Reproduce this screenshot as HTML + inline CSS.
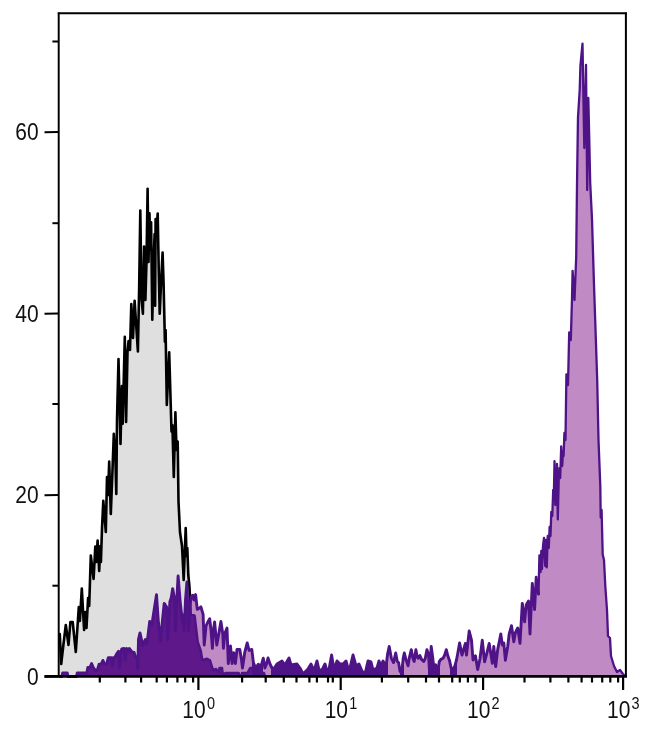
<!DOCTYPE html>
<html><head><meta charset="utf-8"><title>Histogram</title>
<style>
html,body{margin:0;padding:0;background:#fff}
svg{display:block}
.t{font-family:"Liberation Sans",sans-serif;font-size:21px;fill:#111}
.s{font-family:"Liberation Sans",sans-serif;font-size:14.5px;fill:#111}
</style></head><body>
<svg width="650" height="732" viewBox="0 0 650 732">
<rect width="650" height="732" fill="#fff"/>
<polygon points="59.3,676.5 59.3,640.0 59.8,634.0 61.2,664.0 63.5,644.0 65.8,625.0 68.5,645.0 70.4,622.0 72.7,622.0 75.8,652.0 78.8,607.0 79.9,621.0 81.8,588.5 84.1,630.0 85.3,612.0 86.5,628.0 88.1,598.0 89.2,606.0 90.8,555.5 93.6,579.0 95.3,546.5 96.3,562.0 97.6,540.5 99.2,571.0 100.3,546.0 100.9,562.0 102.0,528.6 103.3,500.8 105.8,532.0 107.0,477.0 108.0,495.0 109.2,461.5 110.8,514.0 112.5,470.0 113.8,433.8 115.4,457.7 116.3,494.0 117.0,420.0 118.5,359.0 120.5,444.0 121.9,386.0 122.7,423.6 124.8,336.7 126.1,422.0 127.5,352.0 128.6,341.0 130.0,350.0 131.3,304.0 133.0,338.0 134.6,300.7 137.9,351.5 139.2,285.0 140.3,210.5 141.6,300.0 142.9,313.7 144.1,246.5 145.4,300.0 146.5,262.0 147.6,188.8 148.5,262.0 149.5,213.4 150.2,250.0 151.1,222.3 152.3,319.7 153.6,262.0 154.6,234.0 155.1,305.8 155.6,219.0 156.6,228.0 157.7,213.5 158.7,268.0 159.7,313.7 161.2,280.0 162.6,252.6 163.6,284.0 164.9,341.6 165.6,330.0 166.8,405.0 169.2,352.3 171.5,431.5 172.4,425.0 173.8,477.0 175.4,412.3 176.5,450.0 177.7,441.5 178.5,501.5 180.0,532.3 182.0,546.0 183.7,580.0 185.7,528.0 186.6,556.0 187.3,548.0 188.3,575.0 189.4,586.0 190.8,614.0 194.6,615.7 197.7,641.8 200.8,651.0 202.3,660.3 207.0,658.8 210.0,660.3 213.0,670.3 216.0,669.0 219.0,672.6 219.5,668.0 222.0,668.0 222.8,674.6 225.5,673.0 231.0,673.0 238.7,673.0 239.5,676.0 241.5,676.0 242.0,673.0 247.4,673.0 250.2,668.0 253.0,668.0 254.0,671.5 257.5,671.5 258.4,668.0 260.3,668.0 261.5,673.0 264.0,673.0 265.0,676.5 265.0,676.5" fill="#dfdfdf"/>
<polyline points="59.3,640.0 59.8,634.0 61.2,664.0 63.5,644.0 65.8,625.0 68.5,645.0 70.4,622.0 72.7,622.0 75.8,652.0 78.8,607.0 79.9,621.0 81.8,588.5 84.1,630.0 85.3,612.0 86.5,628.0 88.1,598.0 89.2,606.0 90.8,555.5 93.6,579.0 95.3,546.5 96.3,562.0 97.6,540.5 99.2,571.0 100.3,546.0 100.9,562.0 102.0,528.6 103.3,500.8 105.8,532.0 107.0,477.0 108.0,495.0 109.2,461.5 110.8,514.0 112.5,470.0 113.8,433.8 115.4,457.7 116.3,494.0 117.0,420.0 118.5,359.0 120.5,444.0 121.9,386.0 122.7,423.6 124.8,336.7 126.1,422.0 127.5,352.0 128.6,341.0 130.0,350.0 131.3,304.0 133.0,338.0 134.6,300.7 137.9,351.5 139.2,285.0 140.3,210.5 141.6,300.0 142.9,313.7 144.1,246.5 145.4,300.0 146.5,262.0 147.6,188.8 148.5,262.0 149.5,213.4 150.2,250.0 151.1,222.3 152.3,319.7 153.6,262.0 154.6,234.0 155.1,305.8 155.6,219.0 156.6,228.0 157.7,213.5 158.7,268.0 159.7,313.7 161.2,280.0 162.6,252.6 163.6,284.0 164.9,341.6 165.6,330.0 166.8,405.0 169.2,352.3 171.5,431.5 172.4,425.0 173.8,477.0 175.4,412.3 176.5,450.0 177.7,441.5 178.5,501.5 180.0,532.3 182.0,546.0 183.7,580.0 185.7,528.0 186.6,556.0 187.3,548.0 188.3,575.0 189.4,586.0 190.8,614.0 194.6,615.7 197.7,641.8 200.8,651.0 202.3,660.3 207.0,658.8 210.0,660.3 213.0,670.3 216.0,669.0 219.0,672.6 219.5,668.0 222.0,668.0 222.8,674.6 225.5,673.0 231.0,673.0 238.7,673.0 239.5,676.0 241.5,676.0 242.0,673.0 247.4,673.0 250.2,668.0 253.0,668.0 254.0,671.5 257.5,671.5 258.4,668.0 260.3,668.0 261.5,673.0 264.0,673.0 265.0,676.5" fill="none" stroke="#000" stroke-width="2.6" stroke-linejoin="round" stroke-linecap="round"/>
<polygon points="59.5,676.5 59.5,676.5 62.0,676.5 62.6,673.0 67.3,673.0 67.9,676.5 76.5,676.5 77.2,673.0 86.8,673.0 87.8,667.4 90.0,667.4 91.6,663.6 93.2,667.4 95.4,670.6 97.5,669.5 99.1,664.1 101.3,664.1 102.9,660.4 104.5,664.1 106.6,664.1 108.3,657.7 111.5,657.7 112.4,666.0 113.3,657.7 114.8,657.7 116.4,654.4 118.5,651.2 119.6,668.0 120.3,655.5 121.7,649.0 124.0,648.5 125.2,660.0 126.6,648.5 127.8,651.5 129.3,648.5 132.0,651.8 134.1,652.3 135.7,657.7 137.2,656.6 137.8,669.0 138.5,639.4 140.0,632.9 141.7,640.5 142.6,645.5 145.3,639.5 146.9,644.4 149.7,621.4 151.9,624.7 153.5,614.0 156.5,594.6 158.4,622.5 160.6,641.0 162.5,620.0 164.2,603.4 166.6,607.0 167.7,640.0 169.9,601.7 171.2,598.0 172.7,588.6 174.8,600.6 175.4,631.0 176.8,600.0 178.1,576.0 180.3,602.8 182.5,622.5 183.3,615.0 184.1,631.0 185.5,600.0 186.9,582.0 188.5,631.0 190.0,605.0 191.5,596.0 192.9,595.2 194.2,600.0 195.6,594.6 197.3,609.4 198.2,609.0 200.9,606.8 203.1,614.4 204.2,645.0 206.0,626.0 207.8,622.0 209.7,618.8 211.0,630.0 212.4,648.3 213.5,630.0 214.6,622.0 216.8,645.0 218.4,636.0 220.9,621.5 222.8,634.0 223.4,648.3 225.0,633.0 227.0,628.0 228.3,663.6 230.5,646.0 232.1,663.6 233.7,652.7 235.4,663.6 237.0,649.4 239.8,649.4 241.4,659.3 242.5,668.0 244.7,652.7 247.2,642.9 249.1,650.5 251.8,649.4 253.4,662.6 255.6,668.0 258.4,664.2 260.5,668.0 263.3,658.2 264.9,668.0 266.5,664.0 268.0,658.0 270.0,664.0 273.0,670.0 277.0,664.0 282.0,661.0 285.0,665.0 289.0,658.0 291.0,665.0 297.0,664.0 300.0,668.0 303.0,674.0 308.0,669.0 311.0,664.0 314.0,671.0 317.0,661.0 319.0,670.0 322.0,670.0 325.0,664.0 328.0,675.0 331.6,655.0 334.0,670.0 337.0,661.0 340.0,664.0 343.0,664.0 346.0,661.0 349.0,672.0 353.0,655.0 356.0,666.0 359.0,664.0 362.0,671.0 365.0,674.0 368.0,661.0 371.0,662.0 373.0,670.0 377.0,668.0 379.0,661.0 381.0,666.0 383.0,661.0 386.0,667.0 387.6,654.0 389.2,646.5 391.4,658.3 393.5,662.6 395.7,653.0 397.3,661.5 398.6,662.6 400.0,671.2 401.6,673.4 403.2,658.3 404.3,653.0 405.9,659.4 408.1,665.8 409.2,658.3 411.3,649.7 412.9,658.3 414.2,661.5 415.9,649.7 417.2,657.2 418.3,658.3 419.9,655.6 421.5,659.4 423.7,661.5 425.3,658.3 426.9,649.7 428.5,654.0 429.6,673.4 431.2,646.5 432.8,658.3 433.9,669.0 435.7,664.8 436.6,672.3 438.2,669.0 439.3,661.5 440.9,659.4 443.0,658.3 444.7,655.0 446.3,649.7 447.9,656.0 449.5,660.4 451.1,668.0 453.3,669.0 454.9,665.8 456.5,660.0 458.0,652.0 459.6,643.0 462.0,655.0 465.4,643.4 466.5,655.0 469.2,631.0 471.5,640.0 473.0,660.0 475.4,655.7 477.7,669.5 480.0,658.8 482.3,640.3 484.6,661.8 487.0,652.6 489.2,643.4 492.3,663.4 493.8,646.5 495.7,666.5 497.7,649.5 500.8,634.0 502.3,645.0 503.8,643.0 505.4,660.3 507.7,646.5 509.2,634.0 511.5,625.7 513.8,641.8 515.4,632.6 517.7,628.0 520.0,643.4 522.3,603.4 524.6,621.8 526.2,605.0 528.5,601.0 530.0,634.0 532.3,583.4 534.6,609.5 536.2,577.2 538.5,594.0 539.4,555.4 540.6,572.0 541.3,551.0 542.0,569.0 543.0,546.0 544.0,537.8 545.2,566.0 546.0,540.0 546.8,567.4 547.7,536.0 548.8,548.0 549.6,527.0 550.5,536.0 551.3,512.0 552.3,516.0 553.2,490.0 553.8,500.0 554.5,461.2 555.3,505.0 556.0,470.0 556.5,500.0 557.0,464.0 557.8,519.4 558.7,480.0 559.5,468.0 560.2,478.0 561.2,446.5 562.2,466.0 563.0,452.0 563.6,456.0 564.4,433.0 565.5,440.0 566.4,374.5 568.0,385.0 569.2,332.4 570.8,340.0 572.0,298.8 572.6,270.8 574.5,300.0 576.2,256.8 577.0,186.0 577.8,130.0 578.0,117.0 579.7,90.0 580.4,66.0 582.5,43.6 584.3,148.0 586.0,64.9 587.2,190.0 588.3,98.0 589.3,141.0 590.2,183.0 592.0,219.0 593.9,282.0 595.8,338.0 597.2,380.0 598.5,440.0 600.3,486.0 600.7,517.5 601.6,510.0 602.7,554.5 604.0,560.0 605.3,586.0 607.0,610.0 608.0,636.0 610.0,638.0 611.0,656.0 614.0,666.0 617.0,672.0 620.0,670.0 623.0,674.0 625.0,676.0 625.0,676.5" fill="#c08bc5"/>
<polygon points="59.5,676.5 59.5,676.5 59.5,676.5 59.8,676.5 60.0,676.5 60.3,676.5 60.5,676.5 60.8,676.5 61.0,676.5 61.2,676.5 61.3,676.5 61.5,676.5 61.8,676.5 62.0,676.5 62.0,676.2 62.3,674.8 62.5,673.3 62.6,673.0 62.8,673.0 63.0,673.0 63.3,673.0 63.5,673.0 63.5,673.0 63.8,673.0 64.0,673.0 64.3,673.0 64.5,673.0 64.8,673.0 65.0,673.0 65.3,673.0 65.5,673.0 65.8,673.0 66.0,673.0 66.3,673.0 66.5,673.0 66.8,673.0 67.0,673.0 67.3,673.0 67.5,674.5 67.8,675.9 67.9,676.5 68.0,676.5 68.3,676.5 68.5,676.5 68.5,676.5 68.8,676.5 69.0,676.5 69.3,676.5 69.5,676.5 69.8,676.5 70.0,676.5 70.3,676.5 70.4,676.5 70.5,676.5 70.8,676.5 71.0,676.5 71.3,676.5 71.5,676.5 71.8,676.5 72.0,676.5 72.3,676.5 72.5,676.5 72.7,676.5 72.8,676.5 73.0,676.5 73.3,676.5 73.5,676.5 73.8,676.5 74.0,676.5 74.3,676.5 74.5,676.5 74.8,676.5 75.0,676.5 75.3,676.5 75.5,676.5 75.8,676.5 76.0,676.5 76.3,676.5 76.5,676.5 76.5,676.2 76.8,675.0 77.0,673.8 77.2,673.0 77.3,673.0 77.5,673.0 77.8,673.0 78.0,673.0 78.3,673.0 78.5,673.0 78.8,673.0 79.0,673.0 79.3,673.0 79.5,673.0 79.8,673.0 79.9,673.0 80.0,673.0 80.3,673.0 80.5,673.0 80.8,673.0 81.0,673.0 81.3,673.0 81.5,673.0 81.8,673.0 82.0,673.0 82.3,673.0 82.5,673.0 82.8,673.0 83.0,673.0 83.3,673.0 83.5,673.0 83.8,673.0 84.0,673.0 84.1,673.0 84.3,673.0 84.5,673.0 84.8,673.0 85.0,673.0 85.3,673.0 85.5,673.0 85.8,673.0 86.0,673.0 86.3,673.0 86.5,673.0 86.5,673.0 86.8,673.0 87.0,671.6 87.3,670.2 87.5,668.8 87.8,667.4 88.0,667.4 88.1,667.4 88.3,667.4 88.5,667.4 88.8,667.4 89.0,667.4 89.2,667.4 89.3,667.4 89.5,667.4 89.8,667.4 90.0,667.4 90.0,667.3 90.3,666.7 90.5,666.1 90.8,665.5 91.0,664.9 91.3,664.3 91.5,663.7 91.6,663.6 91.8,664.1 92.0,664.7 92.3,665.3 92.5,665.9 92.8,666.4 93.0,667.0 93.2,667.4 93.3,667.5 93.5,667.9 93.6,668.0 93.8,668.3 94.0,668.6 94.3,669.0 94.5,669.4 94.8,669.7 95.0,670.1 95.3,670.5 95.4,670.6 95.5,670.5 95.8,670.4 96.0,670.3 96.3,670.1 96.5,670.0 96.8,669.9 97.0,669.7 97.3,669.6 97.5,669.5 97.5,669.3 97.6,669.2 97.8,668.5 98.0,667.6 98.3,666.8 98.5,666.0 98.8,665.1 99.0,664.3 99.1,664.1 99.2,664.1 99.3,664.1 99.5,664.1 99.8,664.1 100.0,664.1 100.3,664.1 100.5,664.1 100.8,664.1 100.9,664.1 101.0,664.1 101.3,664.1 101.5,663.5 101.8,662.9 102.0,662.5 102.0,662.4 102.3,661.8 102.5,661.2 102.8,660.6 102.9,660.4 103.0,660.7 103.3,661.3 103.5,661.9 103.8,662.5 104.0,663.1 104.3,663.6 104.5,664.1 104.5,664.1 104.8,664.1 105.0,664.1 105.3,664.1 105.5,664.1 105.8,664.1 106.0,664.1 106.3,664.1 106.5,664.1 106.6,664.1 106.8,663.3 107.0,662.6 107.0,662.4 107.3,661.5 107.5,660.5 107.8,659.6 108.0,658.8 108.0,658.6 108.3,657.7 108.5,657.7 108.8,657.7 109.0,657.7 109.2,657.7 109.3,657.7 109.5,657.7 109.8,657.7 110.0,657.7 110.3,657.7 110.5,657.7 110.8,657.7 111.0,657.7 111.3,657.7 111.5,657.7 111.5,658.2 111.8,660.5 112.0,662.8 112.3,665.1 112.4,666.0 112.5,665.1 112.5,664.6 112.8,662.3 113.0,660.0 113.3,657.7 113.5,657.7 113.8,657.7 114.0,657.7 114.3,657.7 114.5,657.7 114.8,657.7 115.0,657.2 115.3,656.7 115.4,656.5 115.5,656.2 115.8,655.6 116.0,655.1 116.3,654.6 116.4,654.4 116.5,654.2 116.8,653.8 117.0,653.5 117.0,653.4 117.3,653.0 117.5,652.6 117.8,652.3 118.0,651.9 118.3,651.5 118.5,651.2 118.5,652.0 118.8,655.8 119.0,659.6 119.3,663.4 119.5,667.2 119.6,668.0 119.8,664.4 120.0,660.0 120.3,655.5 120.5,654.6 120.5,654.3 120.8,653.2 121.0,652.0 121.3,650.9 121.5,649.7 121.7,649.0 121.8,649.0 121.9,649.0 122.0,648.9 122.3,648.9 122.5,648.8 122.7,648.8 122.8,648.8 123.0,648.7 123.3,648.7 123.5,648.6 123.8,648.5 124.0,648.5 124.0,649.0 124.3,651.4 124.5,653.8 124.8,656.2 125.0,658.6 125.2,660.0 125.3,659.2 125.5,657.1 125.8,655.1 126.0,653.0 126.1,652.6 126.3,651.0 126.5,648.9 126.6,648.5 126.8,649.0 127.0,649.6 127.3,650.2 127.5,650.8 127.5,650.9 127.8,651.5 128.1,651.0 128.3,650.5 128.6,650.0 128.6,649.9 128.8,649.5 129.1,649.0 129.3,648.5 129.6,648.8 129.8,649.1 130.0,649.4 130.1,649.4 130.3,649.7 130.6,650.0 130.8,650.3 131.1,650.6 131.3,650.9 131.6,651.2 131.8,651.6 132.0,651.8 132.1,651.8 132.3,651.9 132.6,651.9 132.8,652.0 133.0,652.0 133.1,652.0 133.3,652.1 133.6,652.2 133.8,652.2 134.1,652.3 134.1,652.3 134.3,653.0 134.6,653.8 134.6,654.0 134.8,654.7 135.1,655.5 135.3,656.4 135.6,657.2 135.7,657.7 135.8,657.6 136.1,657.4 136.3,657.3 136.6,657.1 136.8,656.9 137.1,656.7 137.2,656.6 137.3,658.7 137.6,663.8 137.8,669.0 137.9,664.8 138.1,658.4 138.3,647.9 138.5,639.4 138.6,639.2 138.8,638.1 139.1,637.0 139.2,636.4 139.3,635.9 139.6,634.8 139.8,633.8 140.0,632.9 140.1,633.1 140.3,634.2 140.6,635.4 140.8,636.5 141.1,637.6 141.3,638.7 141.6,639.8 141.6,640.1 141.7,640.5 141.8,641.1 142.1,642.4 142.3,643.8 142.6,645.2 142.6,645.5 142.8,645.1 142.9,644.8 143.1,644.5 143.3,643.9 143.6,643.4 143.8,642.8 144.1,642.3 144.1,642.2 144.3,641.7 144.6,641.2 144.8,640.6 145.1,640.1 145.3,639.5 145.4,639.8 145.6,640.3 145.8,641.0 146.1,641.8 146.3,642.6 146.5,643.2 146.6,643.3 146.8,644.1 146.9,644.4 147.1,643.2 147.3,641.1 147.6,639.1 147.6,638.7 147.8,637.0 148.1,635.0 148.3,632.9 148.5,631.3 148.6,630.8 148.8,628.8 149.1,626.7 149.3,624.7 149.5,623.0 149.6,622.6 149.7,621.4 149.8,621.6 150.1,621.9 150.2,622.1 150.3,622.3 150.6,622.7 150.8,623.1 151.1,623.4 151.1,623.5 151.3,623.8 151.6,624.2 151.8,624.6 151.9,624.7 152.1,623.7 152.3,622.0 152.6,620.4 152.8,618.7 153.1,617.0 153.3,615.3 153.5,614.0 153.6,613.7 153.6,613.4 153.8,612.1 154.1,610.4 154.3,608.8 154.6,607.2 154.6,606.9 154.8,605.6 155.1,604.0 155.1,603.7 155.3,602.4 155.6,600.7 155.6,600.4 155.8,599.1 156.1,597.5 156.3,595.9 156.5,594.6 156.6,595.3 156.6,596.1 156.8,599.0 157.1,602.7 157.3,606.3 157.6,610.0 157.7,612.2 157.8,613.7 158.1,617.4 158.3,621.0 158.4,622.5 158.6,623.8 158.7,625.0 158.8,625.9 159.1,628.0 159.3,630.1 159.6,632.2 159.7,633.4 159.8,634.3 160.1,636.4 160.3,638.5 160.6,640.6 160.6,641.0 160.8,638.8 161.1,636.0 161.2,634.4 161.3,633.3 161.6,630.5 161.8,627.7 162.1,625.0 162.3,622.2 162.5,620.0 162.6,619.5 162.6,619.0 162.8,617.1 163.1,614.6 163.3,612.2 163.6,609.7 163.6,609.3 163.8,607.3 164.1,604.9 164.2,603.4 164.3,603.6 164.6,603.9 164.8,604.3 164.9,604.5 165.1,604.7 165.3,605.1 165.6,605.4 165.6,605.5 165.8,605.8 166.1,606.2 166.3,606.6 166.6,606.9 166.6,607.0 166.8,613.0 167.1,620.5 167.3,628.0 167.6,635.5 167.7,640.0 167.8,638.3 168.1,633.9 168.3,629.6 168.6,625.2 168.8,620.8 169.1,616.5 169.2,613.9 169.3,612.1 169.6,607.8 169.8,603.4 169.9,601.7 170.1,601.3 170.3,600.6 170.6,599.9 170.8,599.1 171.1,598.4 171.2,598.0 171.3,597.4 171.5,596.1 171.6,595.8 171.8,594.2 172.1,592.7 172.3,591.1 172.4,590.5 172.6,589.5 172.7,588.6 172.8,589.2 173.1,590.6 173.3,592.0 173.6,593.5 173.8,594.9 174.1,596.3 174.3,597.7 174.6,599.2 174.8,600.6 175.1,613.3 175.3,625.9 175.4,631.0 175.6,627.7 175.8,622.1 176.1,616.6 176.3,611.1 176.5,606.6 176.6,605.5 176.8,600.0 177.1,595.4 177.3,590.8 177.6,586.2 177.7,583.4 177.8,581.5 178.1,576.9 178.1,576.0 178.3,578.4 178.5,580.9 178.6,581.5 178.8,584.5 179.1,587.6 179.3,590.6 179.6,593.7 179.8,596.7 180.0,599.1 180.1,599.8 180.3,602.8 180.6,605.0 180.8,607.3 181.1,609.5 181.3,611.8 181.6,614.0 181.8,616.2 182.0,618.0 182.1,618.5 182.3,620.7 182.5,622.5 182.6,622.0 182.8,619.7 183.1,617.3 183.3,615.0 183.6,620.0 183.7,623.0 183.8,625.0 184.1,630.0 184.1,631.0 184.3,626.6 184.6,621.0 184.8,615.5 185.1,610.0 185.3,604.4 185.5,600.0 185.6,599.4 185.7,597.4 185.8,596.1 186.1,592.9 186.3,589.7 186.6,586.5 186.6,585.9 186.8,583.3 186.9,582.0 187.1,586.6 187.3,594.3 187.6,601.9 187.8,609.6 188.1,617.2 188.3,624.9 188.5,631.0 188.6,630.1 188.8,625.8 189.1,621.5 189.3,617.1 189.4,615.4 189.6,612.8 189.8,608.5 190.0,605.0 190.1,604.7 190.3,604.0 190.6,609.0 190.8,614.0 191.1,614.1 191.3,614.2 191.5,614.3 191.6,614.3 191.8,614.4 192.1,614.6 192.3,614.7 192.6,614.8 192.8,614.9 192.9,614.9 193.1,615.0 193.3,615.1 193.6,615.2 193.8,615.3 194.1,615.5 194.2,615.5 194.3,615.6 194.6,615.7 194.6,615.7 194.8,617.4 195.1,619.5 195.3,621.6 195.6,623.7 195.6,624.1 195.8,625.8 196.1,627.9 196.3,630.0 196.6,632.1 196.8,634.2 197.1,636.3 197.3,638.4 197.6,640.5 197.7,641.8 197.8,642.1 198.1,642.8 198.2,643.3 198.3,643.6 198.6,644.3 198.8,645.1 199.1,645.8 199.3,646.5 199.6,647.3 199.8,648.0 200.1,648.8 200.3,649.5 200.6,650.3 200.8,651.0 200.9,651.6 201.1,652.5 201.3,654.1 201.6,655.6 201.8,657.2 202.1,658.8 202.3,660.3 202.6,660.2 202.8,660.1 203.1,660.1 203.1,660.0 203.3,660.0 203.6,659.9 203.8,659.8 204.1,659.7 204.2,659.7 204.3,659.7 204.6,659.6 204.8,659.5 205.1,659.4 205.3,659.3 205.6,659.3 205.8,659.2 206.0,659.1 206.1,659.1 206.3,659.0 206.6,658.9 206.8,658.9 207.0,658.8 207.1,658.8 207.3,658.9 207.6,659.1 207.8,659.2 208.1,659.3 208.3,659.4 208.6,659.6 208.8,659.7 209.1,659.8 209.3,659.9 209.6,660.1 209.7,660.1 209.8,660.2 210.0,660.3 210.1,660.5 210.3,661.3 210.6,662.1 210.8,663.0 211.0,663.6 211.1,663.8 211.3,664.6 211.6,665.5 211.8,666.3 212.1,667.1 212.3,668.0 212.4,668.3 212.6,668.8 212.8,669.6 213.0,670.3 213.1,670.3 213.3,670.2 213.5,670.1 213.6,670.1 213.8,670.0 214.1,669.8 214.3,669.7 214.6,669.6 214.6,669.6 214.8,669.5 215.1,669.4 215.3,669.3 215.6,669.2 215.8,669.1 216.0,669.0 216.1,669.1 216.3,669.4 216.6,669.7 216.8,670.0 217.1,670.3 217.3,670.6 217.6,670.9 217.8,671.2 218.1,671.5 218.3,671.8 218.4,671.9 218.6,672.1 218.8,672.4 219.0,672.6 219.1,672.1 219.3,669.8 219.5,668.0 219.6,668.0 219.8,668.0 220.1,668.0 220.3,668.0 220.6,668.0 220.8,668.0 220.9,668.0 221.1,668.0 221.3,668.0 221.6,668.0 221.8,668.0 222.0,668.0 222.1,668.4 222.3,670.5 222.6,672.5 222.8,674.6 223.1,674.5 223.3,674.3 223.4,674.2 223.6,674.2 223.8,674.0 224.1,673.9 224.3,673.7 224.6,673.6 224.8,673.4 225.0,673.3 225.1,673.3 225.3,673.1 225.5,673.0 225.6,673.0 225.8,673.0 226.1,673.0 226.3,673.0 226.6,673.0 226.8,673.0 227.0,673.0 227.1,673.0 227.3,673.0 227.6,673.0 227.8,673.0 228.1,673.0 228.3,673.0 228.6,673.0 228.8,673.0 229.1,673.0 229.3,673.0 229.6,673.0 229.8,673.0 230.1,673.0 230.3,673.0 230.5,673.0 230.6,673.0 230.8,673.0 231.0,673.0 231.1,673.0 231.3,673.0 231.6,673.0 231.8,673.0 232.1,673.0 232.1,673.0 232.3,673.0 232.6,673.0 232.8,673.0 233.1,673.0 233.3,673.0 233.6,673.0 233.7,673.0 233.8,673.0 234.1,673.0 234.3,673.0 234.6,673.0 234.8,673.0 235.1,673.0 235.3,673.0 235.4,673.0 235.6,673.0 235.8,673.0 236.1,673.0 236.3,673.0 236.6,673.0 236.8,673.0 237.0,673.0 237.1,673.0 237.3,673.0 237.6,673.0 237.8,673.0 238.1,673.0 238.3,673.0 238.6,673.0 238.7,673.0 238.8,673.4 239.1,674.3 239.3,675.2 239.5,676.0 239.6,676.0 239.8,676.0 240.1,676.0 240.3,676.0 240.6,676.0 240.8,676.0 241.1,676.0 241.3,676.0 241.4,676.0 241.5,676.0 241.6,675.7 241.8,674.2 242.0,673.0 242.1,673.0 242.3,673.0 242.5,673.0 242.6,673.0 242.8,673.0 243.1,673.0 243.3,673.0 243.6,673.0 243.8,673.0 244.1,673.0 244.3,673.0 244.6,673.0 244.7,673.0 244.8,673.0 245.1,673.0 245.3,673.0 245.6,673.0 245.8,673.0 246.1,673.0 246.3,673.0 246.6,673.0 246.8,673.0 247.1,673.0 247.2,673.0 247.3,673.0 247.4,673.0 247.6,672.7 247.8,672.3 248.1,671.8 248.3,671.4 248.6,670.9 248.8,670.5 249.1,670.1 249.1,670.0 249.3,669.6 249.6,669.2 249.8,668.7 250.1,668.3 250.2,668.0 250.3,668.0 250.6,668.0 250.8,668.0 251.1,668.0 251.3,668.0 251.6,668.0 251.8,668.0 252.1,668.0 252.3,668.0 252.6,668.0 252.8,668.0 253.0,668.0 253.1,668.2 253.3,669.1 253.4,669.4 253.6,669.9 253.8,670.8 254.0,671.5 254.1,671.5 254.3,671.5 254.6,671.5 254.8,671.5 255.1,671.5 255.3,671.5 255.6,671.5 255.6,671.5 255.8,671.5 256.1,671.5 256.3,671.5 256.6,671.5 256.8,671.5 257.1,671.5 257.3,671.5 257.5,671.5 257.6,671.3 257.8,670.3 258.1,669.4 258.3,668.4 258.4,668.0 258.6,668.0 258.8,668.0 259.1,668.0 259.3,668.0 259.6,668.0 259.8,668.0 260.1,668.0 260.3,668.0 260.5,668.8 260.6,669.0 260.8,670.1 261.1,671.1 261.3,672.2 261.5,673.0 261.6,673.0 261.8,673.0 262.1,673.0 262.3,673.0 262.6,673.0 262.8,673.0 263.1,673.0 263.3,673.0 263.6,673.0 263.8,673.0 264.0,673.0 264.1,673.2 264.3,674.1 264.6,674.9 264.8,675.8 264.9,676.1 265.0,676.5 265.0,676.5" fill="#5e1889"/>
<clipPath id="pc"><polygon points="59.5,676.5 59.5,676.5 62.0,676.5 62.6,673.0 67.3,673.0 67.9,676.5 76.5,676.5 77.2,673.0 86.8,673.0 87.8,667.4 90.0,667.4 91.6,663.6 93.2,667.4 95.4,670.6 97.5,669.5 99.1,664.1 101.3,664.1 102.9,660.4 104.5,664.1 106.6,664.1 108.3,657.7 111.5,657.7 112.4,666.0 113.3,657.7 114.8,657.7 116.4,654.4 118.5,651.2 119.6,668.0 120.3,655.5 121.7,649.0 124.0,648.5 125.2,660.0 126.6,648.5 127.8,651.5 129.3,648.5 132.0,651.8 134.1,652.3 135.7,657.7 137.2,656.6 137.8,669.0 138.5,639.4 140.0,632.9 141.7,640.5 142.6,645.5 145.3,639.5 146.9,644.4 149.7,621.4 151.9,624.7 153.5,614.0 156.5,594.6 158.4,622.5 160.6,641.0 162.5,620.0 164.2,603.4 166.6,607.0 167.7,640.0 169.9,601.7 171.2,598.0 172.7,588.6 174.8,600.6 175.4,631.0 176.8,600.0 178.1,576.0 180.3,602.8 182.5,622.5 183.3,615.0 184.1,631.0 185.5,600.0 186.9,582.0 188.5,631.0 190.0,605.0 191.5,596.0 192.9,595.2 194.2,600.0 195.6,594.6 197.3,609.4 198.2,609.0 200.9,606.8 203.1,614.4 204.2,645.0 206.0,626.0 207.8,622.0 209.7,618.8 211.0,630.0 212.4,648.3 213.5,630.0 214.6,622.0 216.8,645.0 218.4,636.0 220.9,621.5 222.8,634.0 223.4,648.3 225.0,633.0 227.0,628.0 228.3,663.6 230.5,646.0 232.1,663.6 233.7,652.7 235.4,663.6 237.0,649.4 239.8,649.4 241.4,659.3 242.5,668.0 244.7,652.7 247.2,642.9 249.1,650.5 251.8,649.4 253.4,662.6 255.6,668.0 258.4,664.2 260.5,668.0 263.3,658.2 264.9,668.0 266.5,664.0 268.0,658.0 270.0,664.0 273.0,670.0 277.0,664.0 282.0,661.0 285.0,665.0 289.0,658.0 291.0,665.0 297.0,664.0 300.0,668.0 303.0,674.0 308.0,669.0 311.0,664.0 314.0,671.0 317.0,661.0 319.0,670.0 322.0,670.0 325.0,664.0 328.0,675.0 331.6,655.0 334.0,670.0 337.0,661.0 340.0,664.0 343.0,664.0 346.0,661.0 349.0,672.0 353.0,655.0 356.0,666.0 359.0,664.0 362.0,671.0 365.0,674.0 368.0,661.0 371.0,662.0 373.0,670.0 377.0,668.0 379.0,661.0 381.0,666.0 383.0,661.0 386.0,667.0 387.6,654.0 389.2,646.5 391.4,658.3 393.5,662.6 395.7,653.0 397.3,661.5 398.6,662.6 400.0,671.2 401.6,673.4 403.2,658.3 404.3,653.0 405.9,659.4 408.1,665.8 409.2,658.3 411.3,649.7 412.9,658.3 414.2,661.5 415.9,649.7 417.2,657.2 418.3,658.3 419.9,655.6 421.5,659.4 423.7,661.5 425.3,658.3 426.9,649.7 428.5,654.0 429.6,673.4 431.2,646.5 432.8,658.3 433.9,669.0 435.7,664.8 436.6,672.3 438.2,669.0 439.3,661.5 440.9,659.4 443.0,658.3 444.7,655.0 446.3,649.7 447.9,656.0 449.5,660.4 451.1,668.0 453.3,669.0 454.9,665.8 456.5,660.0 458.0,652.0 459.6,643.0 462.0,655.0 465.4,643.4 466.5,655.0 469.2,631.0 471.5,640.0 473.0,660.0 475.4,655.7 477.7,669.5 480.0,658.8 482.3,640.3 484.6,661.8 487.0,652.6 489.2,643.4 492.3,663.4 493.8,646.5 495.7,666.5 497.7,649.5 500.8,634.0 502.3,645.0 503.8,643.0 505.4,660.3 507.7,646.5 509.2,634.0 511.5,625.7 513.8,641.8 515.4,632.6 517.7,628.0 520.0,643.4 522.3,603.4 524.6,621.8 526.2,605.0 528.5,601.0 530.0,634.0 532.3,583.4 534.6,609.5 536.2,577.2 538.5,594.0 539.4,555.4 540.6,572.0 541.3,551.0 542.0,569.0 543.0,546.0 544.0,537.8 545.2,566.0 546.0,540.0 546.8,567.4 547.7,536.0 548.8,548.0 549.6,527.0 550.5,536.0 551.3,512.0 552.3,516.0 553.2,490.0 553.8,500.0 554.5,461.2 555.3,505.0 556.0,470.0 556.5,500.0 557.0,464.0 557.8,519.4 558.7,480.0 559.5,468.0 560.2,478.0 561.2,446.5 562.2,466.0 563.0,452.0 563.6,456.0 564.4,433.0 565.5,440.0 566.4,374.5 568.0,385.0 569.2,332.4 570.8,340.0 572.0,298.8 572.6,270.8 574.5,300.0 576.2,256.8 577.0,186.0 577.8,130.0 578.0,117.0 579.7,90.0 580.4,66.0 582.5,43.6 584.3,148.0 586.0,64.9 587.2,190.0 588.3,98.0 589.3,141.0 590.2,183.0 592.0,219.0 593.9,282.0 595.8,338.0 597.2,380.0 598.5,440.0 600.3,486.0 600.7,517.5 601.6,510.0 602.7,554.5 604.0,560.0 605.3,586.0 607.0,610.0 608.0,636.0 610.0,638.0 611.0,656.0 614.0,666.0 617.0,672.0 620.0,670.0 623.0,674.0 625.0,676.0 625.0,676.5"/></clipPath>
<polyline clip-path="url(#pc)" points="59.3,640.0 59.8,634.0 61.2,664.0 63.5,644.0 65.8,625.0 68.5,645.0 70.4,622.0 72.7,622.0 75.8,652.0 78.8,607.0 79.9,621.0 81.8,588.5 84.1,630.0 85.3,612.0 86.5,628.0 88.1,598.0 89.2,606.0 90.8,555.5 93.6,579.0 95.3,546.5 96.3,562.0 97.6,540.5 99.2,571.0 100.3,546.0 100.9,562.0 102.0,528.6 103.3,500.8 105.8,532.0 107.0,477.0 108.0,495.0 109.2,461.5 110.8,514.0 112.5,470.0 113.8,433.8 115.4,457.7 116.3,494.0 117.0,420.0 118.5,359.0 120.5,444.0 121.9,386.0 122.7,423.6 124.8,336.7 126.1,422.0 127.5,352.0 128.6,341.0 130.0,350.0 131.3,304.0 133.0,338.0 134.6,300.7 137.9,351.5 139.2,285.0 140.3,210.5 141.6,300.0 142.9,313.7 144.1,246.5 145.4,300.0 146.5,262.0 147.6,188.8 148.5,262.0 149.5,213.4 150.2,250.0 151.1,222.3 152.3,319.7 153.6,262.0 154.6,234.0 155.1,305.8 155.6,219.0 156.6,228.0 157.7,213.5 158.7,268.0 159.7,313.7 161.2,280.0 162.6,252.6 163.6,284.0 164.9,341.6 165.6,330.0 166.8,405.0 169.2,352.3 171.5,431.5 172.4,425.0 173.8,477.0 175.4,412.3 176.5,450.0 177.7,441.5 178.5,501.5 180.0,532.3 182.0,546.0 183.7,580.0 185.7,528.0 186.6,556.0 187.3,548.0 188.3,575.0 189.4,586.0 190.8,614.0 194.6,615.7 197.7,641.8 200.8,651.0 202.3,660.3 207.0,658.8 210.0,660.3 213.0,670.3 216.0,669.0 219.0,672.6 219.5,668.0 222.0,668.0 222.8,674.6 225.5,673.0 231.0,673.0 238.7,673.0 239.5,676.0 241.5,676.0 242.0,673.0 247.4,673.0 250.2,668.0 253.0,668.0 254.0,671.5 257.5,671.5 258.4,668.0 260.3,668.0 261.5,673.0 264.0,673.0 265.0,676.5" fill="none" stroke="#4f1388" stroke-width="2.5" stroke-linejoin="round"/>
<clipPath id="dk"><rect x="252" y="600" width="11" height="77"/><rect x="271" y="600" width="117" height="77"/><rect x="400" y="600" width="4" height="77"/><rect x="428" y="600" width="12" height="77"/><rect x="450" y="600" width="7" height="77"/></clipPath>
<polygon clip-path="url(#dk)" points="59.5,676.5 59.5,676.5 62.0,676.5 62.6,673.0 67.3,673.0 67.9,676.5 76.5,676.5 77.2,673.0 86.8,673.0 87.8,667.4 90.0,667.4 91.6,663.6 93.2,667.4 95.4,670.6 97.5,669.5 99.1,664.1 101.3,664.1 102.9,660.4 104.5,664.1 106.6,664.1 108.3,657.7 111.5,657.7 112.4,666.0 113.3,657.7 114.8,657.7 116.4,654.4 118.5,651.2 119.6,668.0 120.3,655.5 121.7,649.0 124.0,648.5 125.2,660.0 126.6,648.5 127.8,651.5 129.3,648.5 132.0,651.8 134.1,652.3 135.7,657.7 137.2,656.6 137.8,669.0 138.5,639.4 140.0,632.9 141.7,640.5 142.6,645.5 145.3,639.5 146.9,644.4 149.7,621.4 151.9,624.7 153.5,614.0 156.5,594.6 158.4,622.5 160.6,641.0 162.5,620.0 164.2,603.4 166.6,607.0 167.7,640.0 169.9,601.7 171.2,598.0 172.7,588.6 174.8,600.6 175.4,631.0 176.8,600.0 178.1,576.0 180.3,602.8 182.5,622.5 183.3,615.0 184.1,631.0 185.5,600.0 186.9,582.0 188.5,631.0 190.0,605.0 191.5,596.0 192.9,595.2 194.2,600.0 195.6,594.6 197.3,609.4 198.2,609.0 200.9,606.8 203.1,614.4 204.2,645.0 206.0,626.0 207.8,622.0 209.7,618.8 211.0,630.0 212.4,648.3 213.5,630.0 214.6,622.0 216.8,645.0 218.4,636.0 220.9,621.5 222.8,634.0 223.4,648.3 225.0,633.0 227.0,628.0 228.3,663.6 230.5,646.0 232.1,663.6 233.7,652.7 235.4,663.6 237.0,649.4 239.8,649.4 241.4,659.3 242.5,668.0 244.7,652.7 247.2,642.9 249.1,650.5 251.8,649.4 253.4,662.6 255.6,668.0 258.4,664.2 260.5,668.0 263.3,658.2 264.9,668.0 266.5,664.0 268.0,658.0 270.0,664.0 273.0,670.0 277.0,664.0 282.0,661.0 285.0,665.0 289.0,658.0 291.0,665.0 297.0,664.0 300.0,668.0 303.0,674.0 308.0,669.0 311.0,664.0 314.0,671.0 317.0,661.0 319.0,670.0 322.0,670.0 325.0,664.0 328.0,675.0 331.6,655.0 334.0,670.0 337.0,661.0 340.0,664.0 343.0,664.0 346.0,661.0 349.0,672.0 353.0,655.0 356.0,666.0 359.0,664.0 362.0,671.0 365.0,674.0 368.0,661.0 371.0,662.0 373.0,670.0 377.0,668.0 379.0,661.0 381.0,666.0 383.0,661.0 386.0,667.0 387.6,654.0 389.2,646.5 391.4,658.3 393.5,662.6 395.7,653.0 397.3,661.5 398.6,662.6 400.0,671.2 401.6,673.4 403.2,658.3 404.3,653.0 405.9,659.4 408.1,665.8 409.2,658.3 411.3,649.7 412.9,658.3 414.2,661.5 415.9,649.7 417.2,657.2 418.3,658.3 419.9,655.6 421.5,659.4 423.7,661.5 425.3,658.3 426.9,649.7 428.5,654.0 429.6,673.4 431.2,646.5 432.8,658.3 433.9,669.0 435.7,664.8 436.6,672.3 438.2,669.0 439.3,661.5 440.9,659.4 443.0,658.3 444.7,655.0 446.3,649.7 447.9,656.0 449.5,660.4 451.1,668.0 453.3,669.0 454.9,665.8 456.5,660.0 458.0,652.0 459.6,643.0 462.0,655.0 465.4,643.4 466.5,655.0 469.2,631.0 471.5,640.0 473.0,660.0 475.4,655.7 477.7,669.5 480.0,658.8 482.3,640.3 484.6,661.8 487.0,652.6 489.2,643.4 492.3,663.4 493.8,646.5 495.7,666.5 497.7,649.5 500.8,634.0 502.3,645.0 503.8,643.0 505.4,660.3 507.7,646.5 509.2,634.0 511.5,625.7 513.8,641.8 515.4,632.6 517.7,628.0 520.0,643.4 522.3,603.4 524.6,621.8 526.2,605.0 528.5,601.0 530.0,634.0 532.3,583.4 534.6,609.5 536.2,577.2 538.5,594.0 539.4,555.4 540.6,572.0 541.3,551.0 542.0,569.0 543.0,546.0 544.0,537.8 545.2,566.0 546.0,540.0 546.8,567.4 547.7,536.0 548.8,548.0 549.6,527.0 550.5,536.0 551.3,512.0 552.3,516.0 553.2,490.0 553.8,500.0 554.5,461.2 555.3,505.0 556.0,470.0 556.5,500.0 557.0,464.0 557.8,519.4 558.7,480.0 559.5,468.0 560.2,478.0 561.2,446.5 562.2,466.0 563.0,452.0 563.6,456.0 564.4,433.0 565.5,440.0 566.4,374.5 568.0,385.0 569.2,332.4 570.8,340.0 572.0,298.8 572.6,270.8 574.5,300.0 576.2,256.8 577.0,186.0 577.8,130.0 578.0,117.0 579.7,90.0 580.4,66.0 582.5,43.6 584.3,148.0 586.0,64.9 587.2,190.0 588.3,98.0 589.3,141.0 590.2,183.0 592.0,219.0 593.9,282.0 595.8,338.0 597.2,380.0 598.5,440.0 600.3,486.0 600.7,517.5 601.6,510.0 602.7,554.5 604.0,560.0 605.3,586.0 607.0,610.0 608.0,636.0 610.0,638.0 611.0,656.0 614.0,666.0 617.0,672.0 620.0,670.0 623.0,674.0 625.0,676.0 625.0,676.5" fill="#4f1388"/>
<polyline points="59.5,676.5 62.0,676.5 62.6,673.0 67.3,673.0 67.9,676.5 76.5,676.5 77.2,673.0 86.8,673.0 87.8,667.4 90.0,667.4 91.6,663.6 93.2,667.4 95.4,670.6 97.5,669.5 99.1,664.1 101.3,664.1 102.9,660.4 104.5,664.1 106.6,664.1 108.3,657.7 111.5,657.7 112.4,666.0 113.3,657.7 114.8,657.7 116.4,654.4 118.5,651.2 119.6,668.0 120.3,655.5 121.7,649.0 124.0,648.5 125.2,660.0 126.6,648.5 127.8,651.5 129.3,648.5 132.0,651.8 134.1,652.3 135.7,657.7 137.2,656.6 137.8,669.0 138.5,639.4 140.0,632.9 141.7,640.5 142.6,645.5 145.3,639.5 146.9,644.4 149.7,621.4 151.9,624.7 153.5,614.0 156.5,594.6 158.4,622.5 160.6,641.0 162.5,620.0 164.2,603.4 166.6,607.0 167.7,640.0 169.9,601.7 171.2,598.0 172.7,588.6 174.8,600.6 175.4,631.0 176.8,600.0 178.1,576.0 180.3,602.8 182.5,622.5 183.3,615.0 184.1,631.0 185.5,600.0 186.9,582.0 188.5,631.0 190.0,605.0 191.5,596.0 192.9,595.2 194.2,600.0 195.6,594.6 197.3,609.4 198.2,609.0 200.9,606.8 203.1,614.4 204.2,645.0 206.0,626.0 207.8,622.0 209.7,618.8 211.0,630.0 212.4,648.3 213.5,630.0 214.6,622.0 216.8,645.0 218.4,636.0 220.9,621.5 222.8,634.0 223.4,648.3 225.0,633.0 227.0,628.0 228.3,663.6 230.5,646.0 232.1,663.6 233.7,652.7 235.4,663.6 237.0,649.4 239.8,649.4 241.4,659.3 242.5,668.0 244.7,652.7 247.2,642.9 249.1,650.5 251.8,649.4 253.4,662.6 255.6,668.0 258.4,664.2 260.5,668.0 263.3,658.2 264.9,668.0 266.5,664.0 268.0,658.0 270.0,664.0 273.0,670.0 277.0,664.0 282.0,661.0 285.0,665.0 289.0,658.0 291.0,665.0 297.0,664.0 300.0,668.0 303.0,674.0 308.0,669.0 311.0,664.0 314.0,671.0 317.0,661.0 319.0,670.0 322.0,670.0 325.0,664.0 328.0,675.0 331.6,655.0 334.0,670.0 337.0,661.0 340.0,664.0 343.0,664.0 346.0,661.0 349.0,672.0 353.0,655.0 356.0,666.0 359.0,664.0 362.0,671.0 365.0,674.0 368.0,661.0 371.0,662.0 373.0,670.0 377.0,668.0 379.0,661.0 381.0,666.0 383.0,661.0 386.0,667.0 387.6,654.0 389.2,646.5 391.4,658.3 393.5,662.6 395.7,653.0 397.3,661.5 398.6,662.6 400.0,671.2 401.6,673.4 403.2,658.3 404.3,653.0 405.9,659.4 408.1,665.8 409.2,658.3 411.3,649.7 412.9,658.3 414.2,661.5 415.9,649.7 417.2,657.2 418.3,658.3 419.9,655.6 421.5,659.4 423.7,661.5 425.3,658.3 426.9,649.7 428.5,654.0 429.6,673.4 431.2,646.5 432.8,658.3 433.9,669.0 435.7,664.8 436.6,672.3 438.2,669.0 439.3,661.5 440.9,659.4 443.0,658.3 444.7,655.0 446.3,649.7 447.9,656.0 449.5,660.4 451.1,668.0 453.3,669.0 454.9,665.8 456.5,660.0 458.0,652.0 459.6,643.0 462.0,655.0 465.4,643.4 466.5,655.0 469.2,631.0 471.5,640.0 473.0,660.0 475.4,655.7 477.7,669.5 480.0,658.8 482.3,640.3 484.6,661.8 487.0,652.6 489.2,643.4 492.3,663.4 493.8,646.5 495.7,666.5 497.7,649.5 500.8,634.0 502.3,645.0 503.8,643.0 505.4,660.3 507.7,646.5 509.2,634.0 511.5,625.7 513.8,641.8 515.4,632.6 517.7,628.0 520.0,643.4 522.3,603.4 524.6,621.8 526.2,605.0 528.5,601.0 530.0,634.0 532.3,583.4 534.6,609.5 536.2,577.2 538.5,594.0" fill="none" stroke="#4f1388" stroke-width="2.9" stroke-linejoin="round" stroke-linecap="round"/>
<polyline points="538.5,594.0 539.4,555.4 540.6,572.0 541.3,551.0 542.0,569.0 543.0,546.0 544.0,537.8 545.2,566.0 546.0,540.0 546.8,567.4 547.7,536.0 548.8,548.0 549.6,527.0 550.5,536.0 551.3,512.0 552.3,516.0 553.2,490.0 553.8,500.0 554.5,461.2 555.3,505.0 556.0,470.0 556.5,500.0 557.0,464.0 557.8,519.4 558.7,480.0 559.5,468.0 560.2,478.0 561.2,446.5 562.2,466.0 563.0,452.0 563.6,456.0 564.4,433.0 565.5,440.0 566.4,374.5 568.0,385.0 569.2,332.4 570.8,340.0 572.0,298.8 572.6,270.8 574.5,300.0 576.2,256.8 577.0,186.0 577.8,130.0 578.0,117.0 579.7,90.0 580.4,66.0 582.5,43.6 584.3,148.0 586.0,64.9 587.2,190.0 588.3,98.0 589.3,141.0 590.2,183.0 592.0,219.0 593.9,282.0 595.8,338.0 597.2,380.0 598.5,440.0 600.3,486.0 600.7,517.5 601.6,510.0 602.7,554.5 604.0,560.0 605.3,586.0 607.0,610.0 608.0,636.0 610.0,638.0 611.0,656.0 614.0,666.0 617.0,672.0 620.0,670.0 623.0,674.0 625.0,676.0" fill="none" stroke="#4f1388" stroke-width="2.3" stroke-linejoin="round" stroke-linecap="round"/>
<line x1="58.7" y1="12.4" x2="58.7" y2="677" stroke="#000" stroke-width="1.95"/>
<line x1="57.8" y1="13.3" x2="626.9" y2="13.3" stroke="#000" stroke-width="1.9"/>
<line x1="625.9" y1="12.4" x2="625.9" y2="677" stroke="#000" stroke-width="2"/>
<line x1="44.5" y1="676.4" x2="627" y2="676.4" stroke="#000" stroke-width="2.8"/>
<line x1="44.5" y1="132.2" x2="58" y2="132" stroke="#000" stroke-width="2.1"/>
<text transform="translate(38.6,140.3) scale(1,1.13)" text-anchor="end" class="t">60</text>
<line x1="44.5" y1="313.7" x2="58" y2="313.5" stroke="#000" stroke-width="2.1"/>
<text transform="translate(38.6,321.8) scale(1,1.13)" text-anchor="end" class="t">40</text>
<line x1="44.5" y1="495.2" x2="58" y2="495" stroke="#000" stroke-width="2.1"/>
<text transform="translate(38.6,503.3) scale(1,1.13)" text-anchor="end" class="t">20</text>
<line x1="44.5" y1="676.6" x2="58" y2="676.4" stroke="#000" stroke-width="2.1"/>
<text transform="translate(38.6,684.7) scale(1,1.13)" text-anchor="end" class="t">0</text>
<line x1="52.4" y1="41.5" x2="58" y2="41.5" stroke="#000" stroke-width="2"/>
<line x1="52.4" y1="223.2" x2="58" y2="223.2" stroke="#000" stroke-width="2"/>
<line x1="52.4" y1="404.0" x2="58" y2="404.0" stroke="#000" stroke-width="2"/>
<line x1="52.4" y1="585.7" x2="58" y2="585.7" stroke="#000" stroke-width="2"/>
<line x1="198.4" y1="676" x2="198.4" y2="690" stroke="#000" stroke-width="2.2"/>
<text transform="translate(205.7,717.5) scale(1,1.13)" text-anchor="end" class="t">10</text>
<text transform="translate(206.9,708.6) scale(1,1.1)" class="s">0</text>
<line x1="340.7" y1="676" x2="340.7" y2="690" stroke="#000" stroke-width="2.2"/>
<text transform="translate(348.0,717.5) scale(1,1.13)" text-anchor="end" class="t">10</text>
<text transform="translate(349.2,708.6) scale(1,1.1)" class="s">1</text>
<line x1="483.1" y1="676" x2="483.1" y2="690" stroke="#000" stroke-width="2.2"/>
<text transform="translate(490.4,717.5) scale(1,1.13)" text-anchor="end" class="t">10</text>
<text transform="translate(491.6,708.6) scale(1,1.1)" class="s">2</text>
<line x1="623.1" y1="676" x2="623.1" y2="690" stroke="#000" stroke-width="2.2"/>
<text transform="translate(630.4,717.5) scale(1,1.13)" text-anchor="end" class="t">10</text>
<text transform="translate(631.6,708.6) scale(1,1.1)" class="s">3</text>
<line x1="99.8" y1="676" x2="99.8" y2="682.5" stroke="#000" stroke-width="2.2"/>
<line x1="125.4" y1="676" x2="125.4" y2="682.5" stroke="#000" stroke-width="2.2"/>
<line x1="141.1" y1="676" x2="141.1" y2="682.5" stroke="#000" stroke-width="2.2"/>
<line x1="156.7" y1="676" x2="156.7" y2="682.5" stroke="#000" stroke-width="2.2"/>
<line x1="166.9" y1="676" x2="166.9" y2="682.5" stroke="#000" stroke-width="2.2"/>
<line x1="177.4" y1="676" x2="177.4" y2="682.5" stroke="#000" stroke-width="2.2"/>
<line x1="185.2" y1="676" x2="185.2" y2="682.5" stroke="#000" stroke-width="2.2"/>
<line x1="193.1" y1="676" x2="193.1" y2="682.5" stroke="#000" stroke-width="2.2"/>
<line x1="242.1" y1="676" x2="242.1" y2="682.5" stroke="#000" stroke-width="2.2"/>
<line x1="265.7" y1="676" x2="265.7" y2="682.5" stroke="#000" stroke-width="2.2"/>
<line x1="283.8" y1="676" x2="283.8" y2="682.5" stroke="#000" stroke-width="2.2"/>
<line x1="296.5" y1="676" x2="296.5" y2="682.5" stroke="#000" stroke-width="2.2"/>
<line x1="309.4" y1="676" x2="309.4" y2="682.5" stroke="#000" stroke-width="2.2"/>
<line x1="316.9" y1="676" x2="316.9" y2="682.5" stroke="#000" stroke-width="2.2"/>
<line x1="328.0" y1="676" x2="328.0" y2="682.5" stroke="#000" stroke-width="2.2"/>
<line x1="332.8" y1="676" x2="332.8" y2="682.5" stroke="#000" stroke-width="2.2"/>
<line x1="381.9" y1="676" x2="381.9" y2="682.5" stroke="#000" stroke-width="2.2"/>
<line x1="408.2" y1="676" x2="408.2" y2="682.5" stroke="#000" stroke-width="2.2"/>
<line x1="426.0" y1="676" x2="426.0" y2="682.5" stroke="#000" stroke-width="2.2"/>
<line x1="439.0" y1="676" x2="439.0" y2="682.5" stroke="#000" stroke-width="2.2"/>
<line x1="452.2" y1="676" x2="452.2" y2="682.5" stroke="#000" stroke-width="2.2"/>
<line x1="459.8" y1="676" x2="459.8" y2="682.5" stroke="#000" stroke-width="2.2"/>
<line x1="467.9" y1="676" x2="467.9" y2="682.5" stroke="#000" stroke-width="2.2"/>
<line x1="475.5" y1="676" x2="475.5" y2="682.5" stroke="#000" stroke-width="2.2"/>
<line x1="524.5" y1="676" x2="524.5" y2="682.5" stroke="#000" stroke-width="2.2"/>
<line x1="550.4" y1="676" x2="550.4" y2="682.5" stroke="#000" stroke-width="2.2"/>
<line x1="568.4" y1="676" x2="568.4" y2="682.5" stroke="#000" stroke-width="2.2"/>
<line x1="581.6" y1="676" x2="581.6" y2="682.5" stroke="#000" stroke-width="2.2"/>
<line x1="592.0" y1="676" x2="592.0" y2="682.5" stroke="#000" stroke-width="2.2"/>
<line x1="602.2" y1="676" x2="602.2" y2="682.5" stroke="#000" stroke-width="2.2"/>
<line x1="610.3" y1="676" x2="610.3" y2="682.5" stroke="#000" stroke-width="2.2"/>
<line x1="618.1" y1="676" x2="618.1" y2="682.5" stroke="#000" stroke-width="2.2"/>
</svg>
</body></html>
